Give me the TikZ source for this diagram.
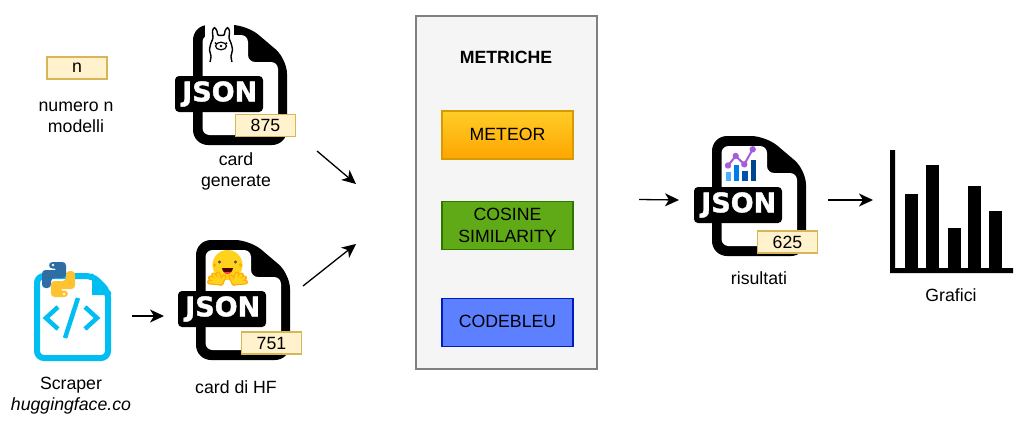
\documentclass[tikz,border=0pt]{standalone}
\usepackage{fontspec}
\setmainfont{Liberation Sans}
\newfontfamily\jsonfont{DejaVu Sans}[BoldFeatures={FakeBold=1.5}]
\usetikzlibrary{arrows.meta}
\definecolor{badgefill}{HTML}{FFF2CC}
\definecolor{badgeline}{HTML}{D6B656}
\definecolor{scrapercol}{HTML}{00BEF2}
\definecolor{hfyellow}{HTML}{FFD21E}
\definecolor{hforange}{HTML}{FFAD03}
\definecolor{chartpurple}{HTML}{A45FD8}
\definecolor{pyblue}{HTML}{2F6EA5}
\definecolor{pyyellow}{HTML}{FFC331}
\definecolor{meteortop}{HTML}{FFCD28}
\definecolor{meteorbot}{HTML}{FFA500}
\definecolor{meteorline}{HTML}{D79B00}
\definecolor{cosinefill}{HTML}{60A917}
\definecolor{cosineline}{HTML}{2D7600}
\definecolor{codefill}{HTML}{5C80FF}
\definecolor{codeline}{HTML}{001DBC}
\tikzset{
  lab/.style={font=\fontsize{17.7}{21}\selectfont,align=center,inner sep=0pt},
  badge/.style={draw=badgeline,fill=badgefill,line width=1.6,minimum width=60,minimum height=22,inner sep=0pt,font=\fontsize{17.7}{19}\selectfont},
  metric/.style={line width=1.4,minimum width=131,minimum height=48,inner sep=0pt,align=center,font=\fontsize{17.7}{22}\selectfont},
  flow/.style={-{Stealth[length=14,width=13,inset=4]},line width=1.3},
  finger/.style={line cap=round,line width=#1},
}
\newcommand{\pyhalf}[1]{%
  \fill[#1,rounded corners=3.5] (49,268.5) -- (49,262) -- (66,262) -- (66,278) -- (51,278) -- (51,288) -- (42,288) -- (42,270) -- (58,270) -- (58,268.5) -- cycle;
  \fill[white] (53,265) circle (1.4);
}
\begin{document}
\begin{tikzpicture}[x=1pt,y=-1pt]
  \useasboundingbox (0,0) rectangle (1026,426);
  % json files
  \foreach \px/\py/\nm in {193/25/gen,196/240/hf,712/136/ris} {
    \begin{scope}[shift={(\px,\py)}]
      \fill[black,rounded corners=15] (0,0) -- (54,0) -- (94,34) -- (94,120) -- (0,120) -- cycle;
      \fill[white,rounded corners=7] (9.5,10) -- (55,10) -- (55,37) -- (85,37) -- (85,110) -- (9.5,110) -- cycle;
      \node[fill=black,rounded corners=4,minimum width=88,minimum height=36,inner sep=0pt,text=white,font=\jsonfont\bfseries\fontsize{27}{27}\selectfont] (json\nm) at (26,69) {\kern1.5pt\raisebox{-2.5pt}{JSON}};
    \end{scope}
  }
  % llama
  \fill[white] (205,24) rectangle (234,37);
  \draw[line width=1.4,line join=round] plot[smooth] coordinates {(210,62) (211,56) (209.5,50) (211,43) (213,38) (212.5,31) (214.5,27.5) (217,31) (218,35) (224,35) (225,31) (227.5,27.5) (229.5,31) (229,38) (231,43) (232.5,50) (231,56) (232,62)};
  \draw[line width=1.2] (221,46) ellipse (5.5 and 3.8);
  \fill (221,46) circle (1.4) (215.5,43) circle (1) (226.5,43) circle (1);
  % hugging face
  \fill[hfyellow] (227.5,265) circle (15);
  \fill[black!70] (219.5,262) circle (1.7) (235.5,262) circle (1.7);
  \fill[hforange] (214.5,265) circle (1.8) (240.5,265) circle (1.8);
  \fill[black!70!red] (222,268) .. controls (223,275.5) and (232,275.5) .. (233,268) -- cycle;
  \fill[red!75!white] (224,272) .. controls (226,275) and (229,275) .. (231,272) -- cycle;
  \foreach \s/\c in {hforange/5,hfyellow/2.6} {
    \foreach \tipx/\tipy in {209.5/282,210.5/278,213.5/275,218/274,224/277} {
      \draw[\s,finger=\c] (221,283) -- (\tipx,\tipy);
      \draw[\s,finger=\c] (234,283) -- (455-\tipx,\tipy);
    }
  }
  % trend chart
  \fill[blue!45!cyan!70!white] (725.5,172) rectangle (730.7,181);
  \fill[blue!45!cyan!90!black] (734,165) rectangle (739.3,181);
  \fill[blue!50!cyan!65!black] (742.3,171) rectangle (747.7,181);
  \fill[blue!50!cyan!55!black] (750.7,160) rectangle (756,181);
  \draw[chartpurple,line width=2] (728,165.5) -- (735.7,156) -- (744.3,164.3) -- (752.7,149.3);
  \foreach \dotx/\doty in {728/165.5,735.7/156,744.3/164.3,752.7/149.3} {
    \fill[chartpurple] (\dotx,\doty) circle (3.2);
  }
  % scraper
  \draw[scrapercol,line width=6,rounded corners=7] (37,276) -- (93,276) -- (108,291) -- (108,358) -- (37,358) -- cycle;
  \fill[scrapercol] (92,273) -- (111,292) -- (111,295) -- (92,295) -- cycle;
  \draw[scrapercol,line width=4.5] (58,307) -- (46,318) -- (58,329) (85,307) -- (97,318) -- (85,329) (78,298) -- (65,338);
  \pyhalf{pyblue}
  \begin{scope}[rotate around={180:(58.5,279.5)}]
    \pyhalf{pyyellow}
  \end{scope}
  % chart
  \fill (890,150) rectangle (895,273) (890,268) rectangle (1013,273);
  \foreach \barx/\bary in {905/194,926/165,948/228,968/186,989/211} {
    \fill (\barx,\bary) rectangle (\barx+13,270);
  }
  % metrics
  \node[draw=black!50,fill=black!4,line width=2,minimum width=181,minimum height=353,inner sep=0pt] (box) at (506,192.5) {};
  \node[lab,font=\bfseries\fontsize{17.7}{21}\selectfont] (title) at (506,57) {METRICHE};
  \node[metric,draw=meteorline,top color=meteortop,bottom color=meteorbot] (meteor) at (507.5,135) {\raisebox{1pt}{METEOR}};
  \node[metric,draw=cosineline,fill=cosinefill] (cosine) at (507.5,225.5) {COSINE\\SIMILARITY};
  \node[metric,draw=codeline,fill=codefill] (codebleu) at (507.5,322.5) {\raisebox{2pt}{CODEBLEU}};
  % badges and texts
  \node[badge] (nbox) at (77,68) {n};
  \node[badge] (b875) at (265.5,125.5) {875};
  \node[badge] (b751) at (271.5,343) {751};
  \node[badge] (b625) at (787.5,242) {625};
  \node[lab] (numero) at (76,117) {numero n\\modelli};
  \node[lab] (cardgen) at (236,171) {card\\generate};
  \node[lab] (scraper) at (71,396) {Scraper\\\textit{huggingface.co}};
  \node[lab] (cardhf) at (236,387) {card di HF};
  \node[lab] (risultati) at (759,278.5) {risultati};
  \node[lab] (grafici) at (951,295) {Grafici};
  % arrows
  \coordinate (a1) at (132,316);
  \coordinate (a2) at (164,316);
  \coordinate (b1) at (317,151);
  \coordinate (b2) at (356,184);
  \coordinate (c1) at (303,286);
  \coordinate (c2) at (356,244);
  \coordinate (d1) at (639,199.5);
  \coordinate (d2) at (679,200);
  \coordinate (e1) at (828,200);
  \coordinate (e2) at (873,200);
  \foreach \st/\en in {a1/a2,b1/b2,c1/c2,d1/d2,e1/e2} {
    \draw[flow] (\st) -- (\en);
  }
\end{tikzpicture}
\end{document}
